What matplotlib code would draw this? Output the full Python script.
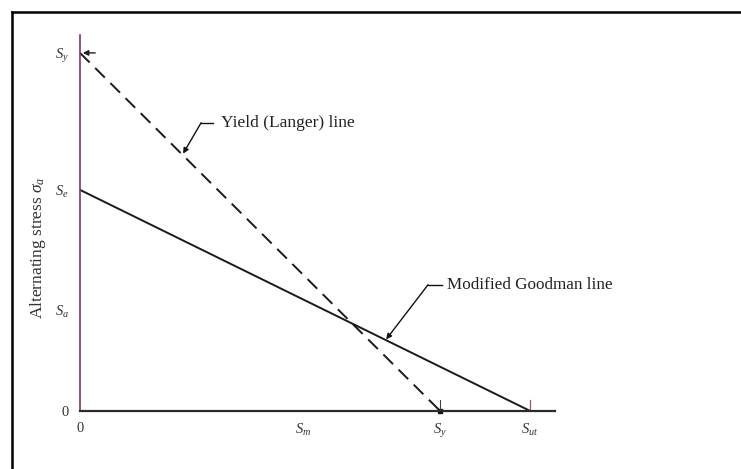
import matplotlib
matplotlib.use("Agg")
import matplotlib.pyplot as plt
from matplotlib.lines import Line2D

plt.rcParams["font.family"] = ["Liberation Serif", "DejaVu Serif"]
plt.rcParams["mathtext.fontset"] = "custom"
plt.rcParams["mathtext.rm"] = "Liberation Serif"
plt.rcParams["mathtext.it"] = "Liberation Serif:italic"

# 値（応力の相対値）
S_ut = 100.0
S_y = 80.0
S_e = 49.4
S_a = 22.6
S_m = 49.6

yield_x = [0, S_y]
yield_y = [S_y, 0]
goodman_x = [0, S_ut]
goodman_y = [S_e, 0]

x_ticks = [0, S_m, S_y, S_ut]
x_labels = ["0", r"$S_{m}$", r"$S_{y}$", r"$S_{ut}$"]
y_ticks = [0, S_a, S_e, S_y]
y_labels = ["0", r"$S_{a}$", r"$S_{e}$", r"$S_{y}$"]

fig = plt.figure(figsize=(7.41, 4.69), dpi=100)
ax = fig.add_axes([80 / 741, 58 / 469, 475 / 741, 376 / 469])

ax.plot(yield_x, yield_y, color="#1a1a1a", lw=1.4, dashes=(7, 4))
ax.plot(goodman_x, goodman_y, color="#1a1a1a", lw=1.4)

ax.set_xlim(0, 105.5)
ax.set_ylim(0, 84)
for s in ["top", "right"]:
    ax.spines[s].set_visible(False)
ax.spines["left"].set_color("#7a3a6a")
ax.spines["left"].set_linewidth(1.2)
ax.spines["bottom"].set_color("#2a2a2a")
ax.spines["bottom"].set_linewidth(1.6)

ax.set_xticks(x_ticks)
ax.set_xticklabels(x_labels, fontsize=10.5, color="#333333")
ax.set_yticks(y_ticks)
ax.set_yticklabels(y_labels, fontsize=10.5, color="#333333")
ax.tick_params(length=0, pad=8)

ax.set_ylabel(r"Alternating stress $\sigma_a$", fontsize=12.5, color="#333333")
ax.yaxis.set_label_coords(-0.068, 0.434)

# 端部の小さい矢印
ax.annotate("", xy=(0, S_y), xytext=(4, S_y),
            arrowprops=dict(arrowstyle="-|>", color="#222222", lw=1.0,
                            mutation_scale=8))
ax.plot([S_y], [0], marker="s", ms=3, color="#111111", clip_on=False)
ax.plot([S_y, S_y], [0, 2.5], color="#444444", lw=0.8)
ax.plot([S_ut, S_ut], [0, 2.5], color="#a0507a", lw=0.9)

# 注記
ax.annotate("", xy=(22.9, 57.5), xytext=(26.9, 64.4),
            arrowprops=dict(arrowstyle="-|>", color="#111111", lw=1.0,
                            mutation_scale=8, shrinkA=0, shrinkB=0))
ax.plot([26.9, 29.5], [64.4, 64.4], color="#111111", lw=1.0)
ax.text(31.3, 64.4, "Yield (Langer) line", fontsize=12.5, va="center",
        ha="left", color="#222222")

ax.annotate("", xy=(68.0, 16.0), xytext=(77.3, 28.2),
            arrowprops=dict(arrowstyle="-|>", color="#111111", lw=1.0,
                            mutation_scale=8, shrinkA=0, shrinkB=0))
ax.plot([77.3, 80.4], [28.2, 28.2], color="#111111", lw=1.0)
ax.text(81.6, 28.2, "Modified Goodman line", fontsize=12.3, va="center",
        ha="left", color="#222222")

# 外枠（左と上のみ）
fig.add_artist(Line2D([12 / 741, 12 / 741], [0, 1 - 12 / 469],
                      transform=fig.transFigure, color="black", lw=1.8))
fig.add_artist(Line2D([12 / 741, 1], [1 - 12 / 469, 1 - 12 / 469],
                      transform=fig.transFigure, color="black", lw=1.8))

fig.savefig("out.png", dpi=100)
